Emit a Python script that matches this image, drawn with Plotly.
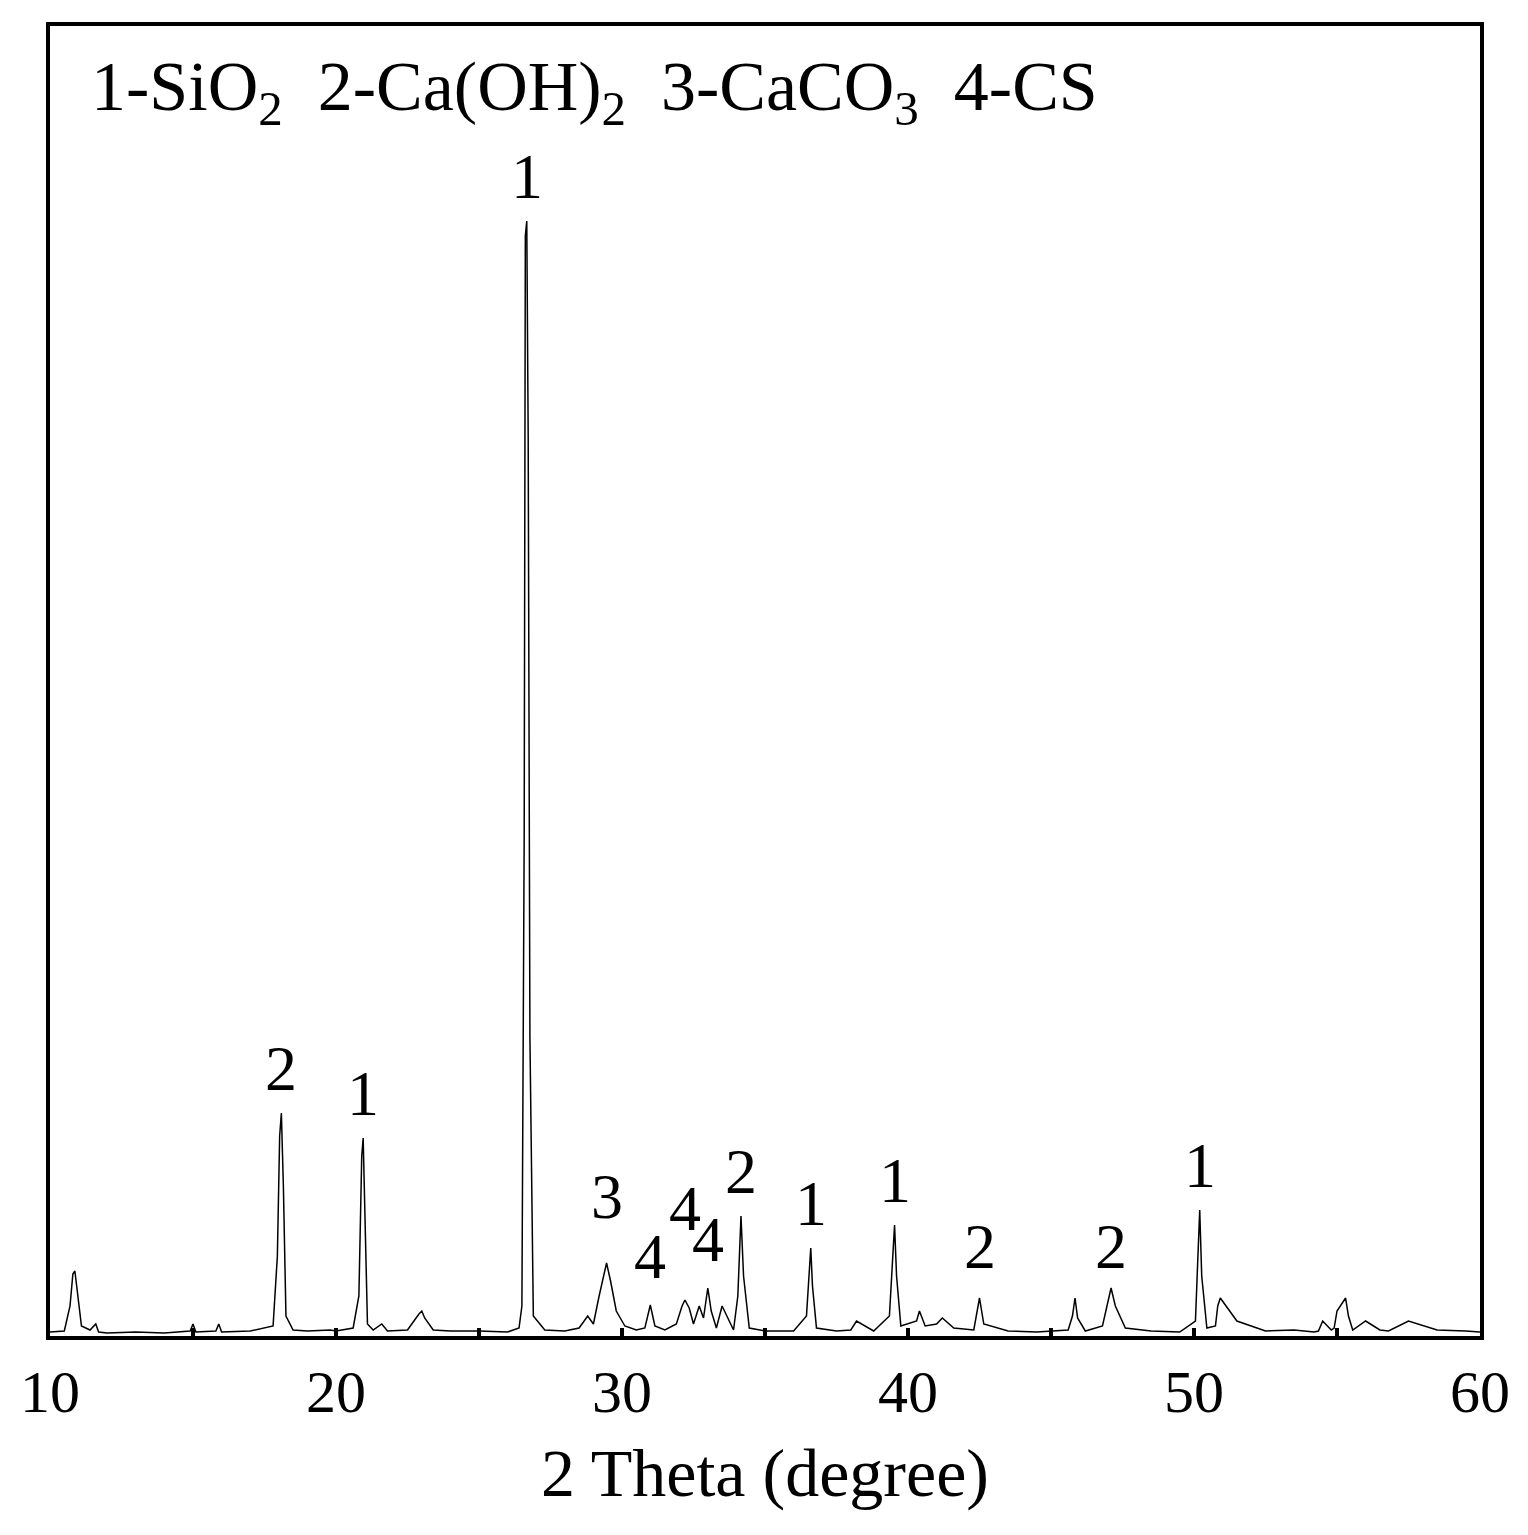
import plotly.graph_objects as go

two_theta = [10.0, 10.5, 10.7, 10.8, 10.87, 10.95, 11.1, 11.4, 11.6, 11.7, 12.0, 13.0, 14.0, 14.9, 15.0, 15.1, 15.8, 15.9, 16.0, 17.0, 17.8, 17.95, 18.03, 18.09, 18.16, 18.25, 18.5, 19.0, 19.8, 20.0, 20.6, 20.8, 20.9, 20.95, 21.01, 21.1, 21.3, 21.6, 21.8, 22.5, 22.9, 23.0, 23.1, 23.4, 24.0, 25.0, 26.0, 26.4, 26.5, 26.58, 26.62, 26.67, 26.72, 26.78, 26.9, 27.3, 28.0, 28.5, 28.8, 29.0, 29.2, 29.46, 29.6, 29.8, 30.1, 30.5, 30.8, 30.99, 31.15, 31.5, 31.9, 32.1, 32.2, 32.35, 32.5, 32.7, 32.85, 33.0, 33.12, 33.3, 33.5, 33.9, 34.05, 34.16, 34.25, 34.45, 35.0, 36.0, 36.45, 36.55, 36.6, 36.66, 36.8, 37.5, 38.0, 38.2, 38.8, 39.35, 39.47, 39.53, 39.6, 39.75, 40.3, 40.4, 40.6, 41.0, 41.2, 41.6, 42.3, 42.5, 42.65, 43.5, 44.5, 45.6, 45.75, 45.84, 45.93, 46.2, 46.8, 47.0, 47.1, 47.25, 47.6, 48.5, 49.5, 50.05, 50.15, 50.2, 50.27, 50.45, 50.75, 50.83, 50.92, 51.5, 52.5, 53.5, 54.2, 54.35, 54.5, 54.8, 54.9, 55.0, 55.3, 55.4, 55.55, 56.0, 56.5, 56.7, 56.8, 57.5, 58.5, 59.5, 60.0]
intensity = [4, 5, 30, 62, 65, 45, 10, 6, 12, 4, 3, 4, 3, 5, 12, 4, 5, 12, 4, 5, 10, 80, 200, 223, 150, 20, 6, 5, 6, 5, 8, 40, 180, 198, 120, 12, 6, 12, 5, 6, 22, 25, 18, 6, 5, 5, 4, 8, 30, 500, 1100, 1115, 900, 300, 20, 6, 5, 8, 20, 12, 40, 73, 55, 25, 10, 6, 8, 31, 10, 6, 12, 30, 36, 28, 12, 30, 18, 48, 25, 8, 30, 6, 40, 120, 60, 8, 5, 5, 20, 70, 88, 50, 8, 5, 6, 15, 5, 20, 80, 111, 60, 10, 15, 25, 10, 12, 18, 8, 6, 38, 12, 5, 4, 6, 20, 38, 18, 5, 10, 35, 48, 30, 8, 5, 4, 15, 80, 126, 60, 8, 10, 30, 38, 15, 5, 6, 4, 5, 15, 6, 8, 25, 38, 20, 6, 15, 6, 5, 5, 15, 6, 5, 4, 5, 4]

label_x = [26.67, 18.09, 20.95, 29.46, 30.99, 32.2, 33.0, 34.16, 36.6, 39.53, 42.5, 47.1, 50.2]
label_y = [1160, 268, 243, 140, 80, 128, 97, 165, 133, 156, 90, 90, 171]
label_text = ["1", "2", "1", "3", "4", "4", "4", "2", "1", "1", "2", "2", "1"]

fig = go.Figure()
fig.add_trace(go.Scatter(x=two_theta, y=intensity, mode="lines",
                         line=dict(color="black", width=1.5), showlegend=False))
for lx, ly, lt in zip(label_x, label_y, label_text):
    fig.add_annotation(x=lx, y=ly, text=lt, showarrow=False,
                       font=dict(family="Liberation Serif", size=64, color="black"))
fig.add_annotation(xref="paper", yref="paper", x=0.027, y=0.985, xanchor="left", yanchor="top",
                   text="1-SiO<sub>2</sub>  2-Ca(OH)<sub>2</sub>  3-CaCO<sub>3</sub>  4-CS",
                   showarrow=False, font=dict(family="Liberation Serif", size=70, color="black"))
fig.update_layout(width=1528, height=1535, margin=dict(l=38, r=56, t=18, b=207),
                  plot_bgcolor="white", paper_bgcolor="white",
                  font=dict(family="Liberation Serif", color="black"))
fig.update_xaxes(range=[10, 60], tickvals=[10, 20, 30, 40, 50, 60], ticks="inside", ticklen=8,
                 tickwidth=4, tickcolor="black", showline=True, linewidth=4, linecolor="black",
                 mirror=True, showgrid=False, zeroline=False, tickfont=dict(size=60),
                 minor=dict(dtick=5, tick0=10, ticks="inside", ticklen=8, tickwidth=4, tickcolor="black"),
                 title=dict(text="2 Theta (degree)", font=dict(size=68), standoff=25))
fig.update_yaxes(range=[0, 1310], showticklabels=False, ticks="", showline=True, linewidth=4,
                 linecolor="black", mirror=True, showgrid=False, zeroline=False)
fig.write_html("out.html")
